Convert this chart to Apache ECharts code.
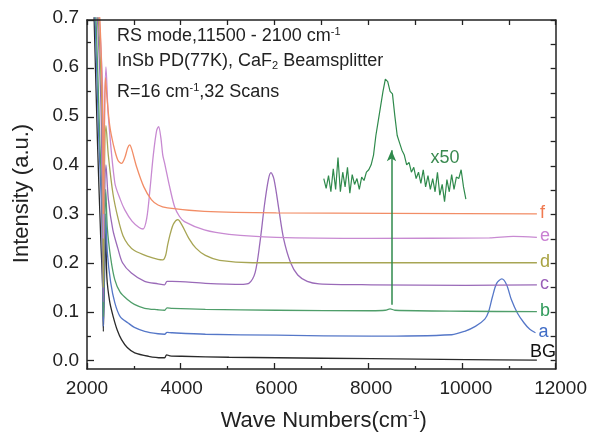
<!DOCTYPE html>
<html>
<head>
<meta charset="utf-8">
<script src="https://cdn.jsdelivr.net/npm/echarts@6.0.0/dist/echarts.min.js"></script>
<style>
  html, body { margin: 0; padding: 0; background: #fff; }
  #chart { position: absolute; left: 0; top: 0; width: 590px; height: 438px; }
  .frame { position: absolute; left: 0; top: 0; width: 590px; height: 438px; pointer-events: none; }
</style>
</head>
<body>
<div id="chart"></div>
<div id="frame" class="frame"></div>
<div id="minor" class="frame"></div>
<script>
// spectra [wavenumber, intensity]
var curveBG = [[2080,0.9],[2150,0.7],[2220,0.45],[2290,0.25],[2330,0.15],[2345,0.06],[2365,0.15],[2395,0.267],[2420,0.17],[2480,0.12],[2553,0.09],[2640,0.062],[2729,0.043],[2850,0.027],[3008,0.016],[3300,0.009],[3569,0.006],[3640,0.006],[3680,0.012],[3750,0.01],[4000,0.009],[5000,0.007],[6000,0.006],[8000,0.004],[10000,0.002],[11500,0.001]];
var curveA = [[2080,0.9],[2170,0.7],[2250,0.45],[2310,0.3],[2345,0.07],[2370,0.2],[2395,0.3],[2430,0.22],[2500,0.16],[2588,0.118],[2700,0.09],[2868,0.077],[3000,0.068],[3218,0.06],[3500,0.055],[3640,0.054],[3690,0.058],[3800,0.057],[4500,0.054],[6000,0.052],[8000,0.05],[9700,0.053],[9975,0.06],[10200,0.07],[10400,0.085],[10480,0.1],[10560,0.13],[10650,0.158],[10760,0.167],[10860,0.155],[10960,0.125],[11090,0.097],[11230,0.077],[11350,0.064],[11470,0.057]];
var curveB = [[2080,0.9],[2190,0.7],[2270,0.45],[2320,0.32],[2345,0.09],[2370,0.25],[2395,0.35],[2430,0.27],[2500,0.21],[2588,0.165],[2700,0.14],[2868,0.124],[3000,0.115],[3218,0.107],[3500,0.104],[3640,0.103],[3690,0.108],[3800,0.107],[4500,0.105],[6000,0.103],[8000,0.102],[8300,0.103],[8400,0.106],[8500,0.103],[10000,0.101],[11500,0.1]];
var curveC = [[2100,0.9],[2220,0.7],[2300,0.5],[2345,0.12],[2370,0.32],[2400,0.4],[2450,0.33],[2546,0.267],[2650,0.23],[2750,0.2],[2937,0.179],[3218,0.162],[3500,0.157],[3638,0.155],[3690,0.162],[3800,0.162],[4500,0.158],[5300,0.156],[5420,0.158],[5550,0.18],[5650,0.24],[5750,0.32],[5830,0.37],[5885,0.384],[5950,0.37],[6050,0.31],[6150,0.25],[6300,0.2],[6450,0.175],[6650,0.162],[6900,0.157],[8000,0.155],[10000,0.154],[11500,0.155]];
var curveD = [[2100,0.9],[2240,0.7],[2320,0.5],[2345,0.15],[2370,0.4],[2400,0.48],[2450,0.42],[2550,0.34],[2657,0.29],[2760,0.255],[2868,0.237],[3000,0.225],[3287,0.213],[3500,0.207],[3600,0.206],[3660,0.215],[3700,0.235],[3760,0.26],[3830,0.28],[3918,0.288],[4000,0.278],[4150,0.25],[4300,0.23],[4500,0.215],[4800,0.205],[5500,0.2],[8000,0.2],[11500,0.2]];
var curveE = [[2100,0.95],[2260,0.7],[2330,0.55],[2345,0.25],[2370,0.5],[2400,0.6],[2450,0.5],[2588,0.363],[2700,0.33],[2798,0.308],[2950,0.285],[3100,0.272],[3183,0.269],[3260,0.29],[3330,0.35],[3400,0.42],[3470,0.47],[3512,0.478],[3560,0.455],[3600,0.42],[3638,0.404],[3690,0.38],[3743,0.356],[3848,0.315],[3950,0.295],[4058,0.284],[4478,0.267],[5000,0.258],[6000,0.252],[8000,0.25],[10500,0.251],[11000,0.254],[11500,0.252]];
var curveF = [[2100,0.95],[2270,0.7],[2330,0.5],[2345,0.3],[2370,0.5],[2390,0.578],[2420,0.54],[2480,0.48],[2560,0.44],[2650,0.41],[2729,0.403],[2800,0.415],[2860,0.435],[2903,0.441],[2950,0.43],[3050,0.395],[3200,0.355],[3359,0.329],[3500,0.318],[3700,0.312],[4478,0.305],[6000,0.302],[11500,0.3]];

// x50 magnified piece of curve b
var insetWave = [7000,7050,7100,7150,7200,7250,7300,7350,7400,7450,7500,7550,7600,7650,7700,7750,7800,7850,7900,7950,8000,8050,8100,8150,8200,8250,8300,8350,8400,8450,8500,8550,8600,8650,8700,8750,8800,8850,8900,8950,9000,9050,9100,9150,9200,9250,9300,9350,9400,9450,9500,9550,9600,9650,9700,9750,9800,9850,9900,9950,10000];
var insetValue = [0.372,0.352,0.378,0.345,0.392,0.35,0.415,0.345,0.385,0.355,0.395,0.342,0.38,0.36,0.372,0.35,0.375,0.368,0.385,0.39,0.40,0.42,0.46,0.49,0.52,0.55,0.575,0.57,0.55,0.545,0.50,0.46,0.445,0.43,0.42,0.40,0.405,0.385,0.395,0.372,0.385,0.362,0.39,0.355,0.378,0.35,0.372,0.345,0.385,0.338,0.36,0.325,0.37,0.345,0.38,0.35,0.375,0.372,0.39,0.355,0.33];

var seriesNames = ['BG', 'a', 'b', 'c', 'd', 'e', 'f'];
var seriesData = [curveBG, curveA, curveB, curveC, curveD, curveE, curveF];
var lineColors = ['#2a2a2a', '#5577c8', '#4f9e6a', '#9a6ab8', '#a7a554', '#c88ad2', '#f28d66'];
var labelColors = ['#111111', '#3f6cc6', '#2f9a5a', '#9a5fb8', '#a8a240', '#c97fd2', '#f07a50'];

// axis ranges and tick values
var xMin = 2000, xMax = 12000;
var yMin = -0.017, yMax = 0.7;
var yMajorTicks = [0, 0.1, 0.2, 0.3, 0.4, 0.5, 0.6, 0.7];
var yMinorTicks = [0.05, 0.15, 0.25, 0.35, 0.45, 0.55, 0.65];
var yAllTicks = [0, 0.05, 0.1, 0.15, 0.2, 0.25, 0.3, 0.35, 0.4, 0.45, 0.5, 0.55, 0.6, 0.65, 0.7];

var font = 'Liberation Sans, Arial, sans-serif';
var ink = '#222';
var gridBox = { left: 87, right: 27, top: 18, bottom: 69 };

// ---------- main chart: curves, labels, texts ----------
var myChart = echarts.init(document.getElementById('chart'));

var series = [];
for (var i = 0; i < seriesNames.length; i++) {
  series.push({
    name: seriesNames[i],
    type: 'line',
    data: seriesData[i],
    smooth: 0.3,
    symbol: 'none',
    lineStyle: { color: lineColors[i], width: 1.3 },
    endLabel: {
      show: true,
      formatter: '{a}',
      color: labelColors[i],
      fontSize: 18,
      fontFamily: font,
      distance: 3,
      offset: seriesNames[i] == 'BG' ? [-10, -8] : [0, -1]
    }
  });
}

var insetData = [];
for (var j = 0; j < insetWave.length; j++) {
  insetData.push([insetWave[j], insetValue[j]]);
}
series.push({
  name: 'x50',
  type: 'line',
  data: insetData,
  symbol: 'none',
  lineStyle: { color: '#2f8a4c', width: 1.2 },
  markLine: {
    silent: true,
    symbol: ['none', 'arrow'],
    symbolSize: [7, 11],
    label: { show: false },
    lineStyle: { color: '#2f8a4c', width: 1.5, type: 'solid' },
    data: [[{ coord: [8430, 0.114] }, { coord: [8430, 0.43] }]]
  },
  markPoint: {
    symbol: 'circle',
    symbolSize: 0,
    label: { show: true, formatter: 'x50', color: '#3a8a50', fontSize: 18, fontFamily: font },
    data: [{ coord: [9560, 0.414] }]
  }
});

myChart.setOption({
  animation: false,
  backgroundColor: '#fff',
  grid: gridBox,
  xAxis: {
    type: 'value',
    min: xMin,
    max: xMax,
    interval: 2000,
    name: 'Wave Numbers(cm{sup|-1})',
    nameLocation: 'middle',
    nameGap: 40,
    nameTextStyle: {
      fontSize: 22, color: ink, fontFamily: font,
      rich: { sup: { fontSize: 13, verticalAlign: 'top', color: ink, fontFamily: font, padding: [0, 0, 10, 0] } }
    },
    axisLine: { show: false, onZero: false },
    axisTick: { show: false },
    axisLabel: { fontSize: 19, color: ink, fontFamily: font, margin: 10, formatter: function (v) { return String(v); } },
    splitLine: { show: false }
  },
  yAxis: {
    type: 'value',
    min: yMin,
    max: yMax,
    name: 'Intensity (a.u.)',
    nameLocation: 'middle',
    nameGap: 54,
    nameTextStyle: { fontSize: 22, color: ink, fontFamily: font },
    axisLine: { show: false, onZero: false },
    axisTick: { show: false },
    axisLabel: {
      customValues: yMajorTicks.slice(),
      fontSize: 19, color: ink, fontFamily: font, margin: 8,
      formatter: function (v) { return v.toFixed(1); }
    },
    splitLine: { show: false }
  },
  graphic: [
    {
      type: 'text', left: 117, top: 26,
      style: {
        text: 'RS mode,11500 - 2100 cm{sup|-1}',
        fill: ink, fontSize: 18, fontFamily: font,
        rich: { sup: { fontSize: 11, verticalAlign: 'top', fill: ink, fontFamily: font, padding: [0, 0, 9, 0] } }
      }
    },
    {
      type: 'text', left: 117, top: 52,
      style: {
        text: 'InSb PD(77K), CaF{sub|2} Beamsplitter',
        fill: ink, fontSize: 18, fontFamily: font,
        rich: { sub: { fontSize: 11, verticalAlign: 'bottom', fill: ink, fontFamily: font, padding: [9, 0, 0, 0] } }
      }
    },
    {
      type: 'text', left: 117, top: 82,
      style: {
        text: 'R=16 cm{sup|-1},32 Scans',
        fill: ink, fontSize: 18, fontFamily: font,
        rich: { sup: { fontSize: 11, verticalAlign: 'top', fill: ink, fontFamily: font, padding: [0, 0, 9, 0] } }
      }
    }
  ],
  series: series
});

// ---------- overlay: axis box with inward ticks (same grid and ranges) ----------
var frameChart = echarts.init(document.getElementById('frame'));
frameChart.setOption({
  animation: false,
  grid: { left: 87, right: 27, top: 18, bottom: 69 },
  xAxis: [
    { type: 'value', min: xMin, max: xMax, interval: 2000,
      axisLine: { show: true, onZero: false, lineStyle: { color: '#222', width: 1.5 } },
      axisTick: { show: true, inside: true, length: 6, lineStyle: { color: '#222', width: 1.3 } },
      minorTick: { show: true, splitNumber: 2, length: 3, lineStyle: { color: '#222', width: 1.3 } },
      axisLabel: { show: true, color: 'rgba(0,0,0,0)' },
      splitLine: { show: false } },
    { type: 'value', position: 'top', min: xMin, max: xMax, interval: 1000,
      axisLine: { show: true, onZero: false, lineStyle: { color: '#222', width: 1.5 } },
      axisTick: { show: true, inside: true, length: 5, lineStyle: { color: '#222', width: 1.3 } },
      axisLabel: { show: true, color: 'rgba(0,0,0,0)' },
      splitLine: { show: false } }
  ],
  yAxis: [
    { type: 'value', min: yMin, max: yMax,
      axisLine: { show: true, onZero: false, lineStyle: { color: '#222', width: 1.5 } },
      axisTick: { show: true, inside: true, length: 7, customValues: yMajorTicks.slice(), lineStyle: { color: '#222', width: 1.3 } },
      axisLabel: { show: true, customValues: yMajorTicks.slice(), color: 'rgba(0,0,0,0)' },
      splitLine: { show: false } },
    { type: 'value', position: 'right', min: yMin, max: yMax,
      axisLine: { show: true, onZero: false, lineStyle: { color: '#222', width: 1.5 } },
      axisTick: { show: true, inside: true, length: 5, customValues: yAllTicks.slice(), lineStyle: { color: '#222', width: 1.3 } },
      axisLabel: { show: true, customValues: yAllTicks.slice(), color: 'rgba(0,0,0,0)' },
      splitLine: { show: false } }
  ],
  series: [{ type: 'line', data: [], symbol: 'none' }]
});

// ---------- overlay: short minor ticks on the left axis ----------
var minorChart = echarts.init(document.getElementById('minor'));
minorChart.setOption({
  animation: false,
  grid: { left: 87, right: 27, top: 18, bottom: 69 },
  xAxis: { type: 'value', min: xMin, max: xMax, show: false },
  yAxis: { type: 'value', min: yMin, max: yMax,
    axisLine: { show: false, onZero: false },
    axisTick: { show: true, inside: true, length: 4, customValues: yMinorTicks.slice(), lineStyle: { color: '#222', width: 1.3 } },
    axisLabel: { show: true, customValues: yMinorTicks.slice(), color: 'rgba(0,0,0,0)' },
    splitLine: { show: false } },
  series: [{ type: 'line', data: [], symbol: 'none' }]
});
</script>
</body>
</html>
